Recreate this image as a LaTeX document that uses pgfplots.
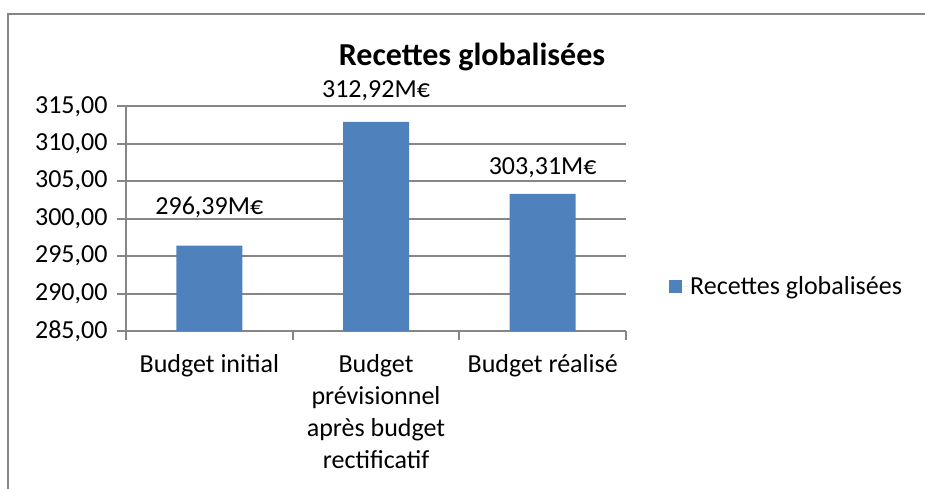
\documentclass[border=0pt]{standalone}
\usepackage{pgfplots}
\pgfplotsset{compat=1.18}
\usepackage{fontspec}
\setmainfont{Carlito}
\definecolor{barblue}{HTML}{4F81BD}
\definecolor{gridgray}{HTML}{868686}
\begin{document}
\begin{tikzpicture}[x=1pt,y=1pt]
\path[use as bounding box] (0,0) rectangle (925,488);
\draw[gridgray, line width=2.2pt] (8,-5) -- (8,474) -- (930,474);
\node[font=\fontsize{32}{38}\selectfont\bfseries] at (472,431) {Recettes globalisées};
\begin{axis}[
  at={(126pt,157pt)}, anchor=south west,
  scale only axis, width=500pt, height=224.7pt,
  xmin=-0.5, xmax=2.5, ymin=285, ymax=315,
  axis x line=bottom, axis y line=left,
  axis line style={-, draw=gridgray, line width=2pt},
  ytick={285,290,...,315},
  ymajorgrids, grid style={draw=gridgray, line width=2pt},
  tick align=outside, major tick length=9pt,
  every tick/.style={draw=gridgray, line width=2pt},
  xtick={0,1,2},
  x tick style={draw=none},
  xticklabels={Budget initial, Budget\\prévisionnel\\après budget\\rectificatif, Budget réalisé},
  extra x ticks={-0.5,0.5,1.5,2.5},
  extra x tick labels={},
  extra x tick style={grid=none, x tick style={draw=gridgray, line width=2pt}},
  xticklabel style={align=center, font=\fontsize{26}{32}\selectfont, anchor=north, yshift=-11pt},
  yticklabel style={font=\fontsize{26}{31.7}\selectfont, xshift=-6pt},
  /pgf/number format/.cd, fixed, fixed zerofill, precision=2, use comma, assume math mode=true,
  /pgfplots/.cd,
  clip=false,
  legend style={at={(1.086,0.2)}, anchor=west, draw=none, fill=none, inner sep=0pt,
    font=\fontsize{26}{31.7}\selectfont},
  legend cell align=left,
]
\addplot[ybar, bar width=66pt, fill=barblue, draw=none,
  legend image code/.code={\fill[barblue] (0pt,-6.5pt) rectangle (13pt,6.5pt); \path (0pt,0pt) -- (19pt,0pt);}]
  coordinates {(0,296.39) (1,312.92) (2,303.31)};
\addlegendentry{Recettes globalisées}
\addplot[draw=none, mark=none, nodes near coords, point meta=explicit symbolic,
  every node near coord/.style={anchor=center, font=\fontsize{26}{31.7}\selectfont, text=black}, forget plot]
  table[meta=lab] {
x y lab
0 301.55 296,39M€
1 317.04 312,92M€
2 306.76 303,31M€
};
\end{axis}
\end{tikzpicture}
\end{document}
